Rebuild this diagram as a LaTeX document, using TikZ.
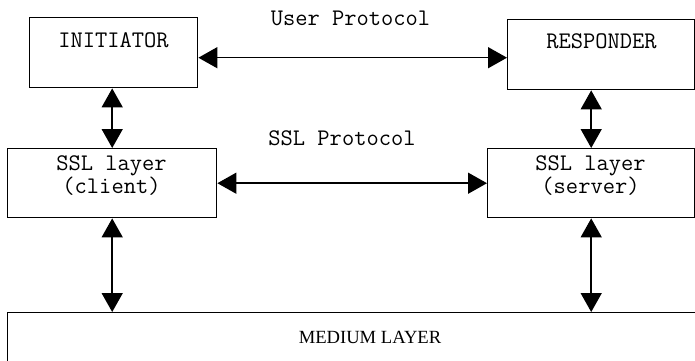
\documentclass[tikz,border=0pt]{standalone}
\usepackage{fontspec}
\setmainfont{Liberation Serif}
\usetikzlibrary{arrows.meta,calc}
\tikzset{
  box/.style={draw=black, line width=1.4pt, rectangle, inner sep=0pt, anchor=north west},
  mono/.style={font=\fontsize{23.8}{16}\ttfamily, anchor=base, inner sep=0pt, align=center},
  serif/.style={font=\fontsize{18.6}{20}\rmfamily, anchor=base, inner sep=0pt},
  arr/.style={line width=1.5pt, {Triangle[length=19pt,width=21pt]}-{Triangle[length=19pt,width=21pt]}}
}
\begin{document}
\begin{tikzpicture}[x=1pt,y=-1pt]
\useasboundingbox (0,0) rectangle (695,360);
\clip (0,0) rectangle (695,360);
\fill[white] (0,0) rectangle (695,360);
% boxes
\node[box, minimum width=168pt, minimum height=70pt] (init) at (29,17) {};
\node[box, minimum width=187pt, minimum height=70pt] (resp) at (507,19) {};
\node[box, minimum width=209pt, minimum height=69pt] (sslc) at (7,148) {};
\node[box, minimum width=207pt, minimum height=69pt] (srv) at (487,148) {};
\node[box, minimum width=720pt, minimum height=80pt] (med) at (7,312) {};
% labels
\node[mono] (tinit) at (113.5,47) {INITIATOR};
\node[mono] (tresp) at (601.5,48) {RESPONDER};
\node[mono] (tc) at (111.5,193) {SSL layer\\(client)};
\node[mono] (ts) at (590.5,193) {SSL layer\\(server)};
\node[mono] (tuser) at (350.5,25) {User Protocol};
\node[mono] (tssl) at (342,145) {SSL Protocol};
\node[serif] (tmed) at (370,343) {MEDIUM LAYER};
% connectors
\draw[arr] ([yshift=-5pt]init.east) coordinate (u1) -- (u1 -| resp.west);
\draw[arr] (sslc.east) -- (srv.west |- sslc.east);
\draw[arr] (sslc.north |- init.south) -- (sslc.north);
\draw[arr] (srv.north |- resp.south) -- (srv.north);
\draw[arr] (sslc.south) -- (sslc.south |- med.north);
\draw[arr] (srv.south) -- (srv.south |- med.north);
\end{tikzpicture}
\end{document}
